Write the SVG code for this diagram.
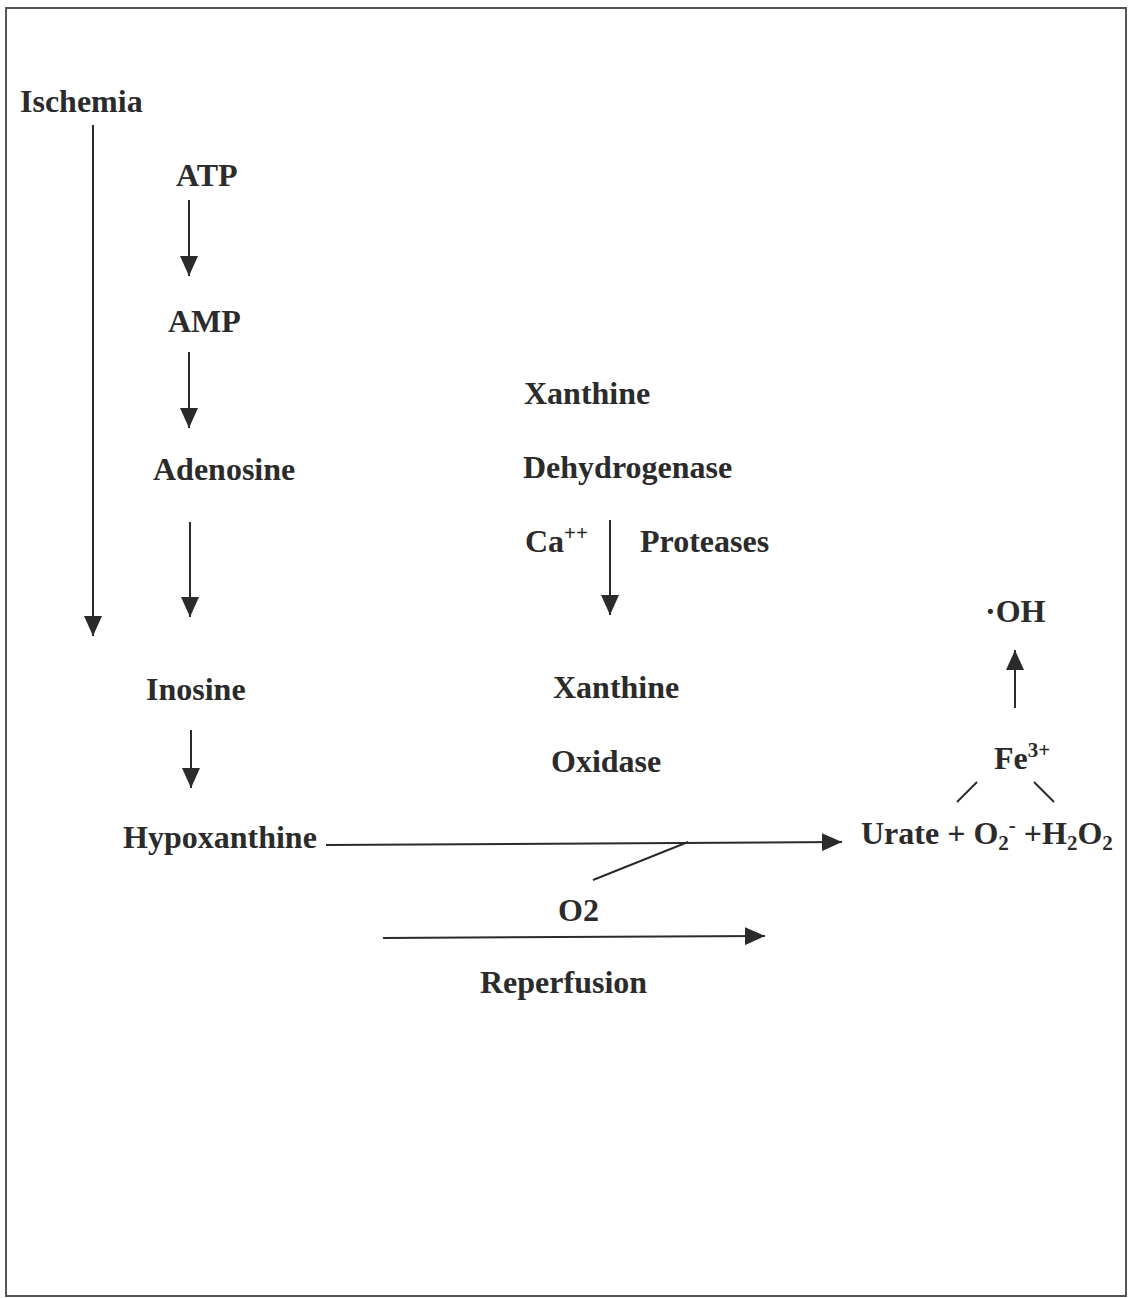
<svg xmlns="http://www.w3.org/2000/svg" width="1132" height="1298" viewBox="0 0 1132 1298">
<defs>
<style>
text{font-family:"Liberation Serif","Times New Roman",serif;font-weight:bold;font-size:32px;fill:#2b2b2b}
.ln{stroke:#2b2b2b;stroke-width:2;fill:none}
.sm{font-size:21px}
</style>
<marker id="ah" viewBox="0 0 20 18" refX="20" refY="9" markerWidth="20" markerHeight="18" markerUnits="userSpaceOnUse" orient="auto">
<path d="M0,0 L20,9 L0,18 Z" fill="#2b2b2b"/>
</marker>
</defs>
<rect width="1132" height="1298" fill="#fff"/>
<rect x="6" y="8" width="1120" height="1288" fill="none" stroke="#555" stroke-width="2"/>
<g id="ischemia"><text x="20" y="112">Ischemia</text></g>
<g id="atp"><text x="176" y="186">ATP</text></g>
<g id="amp"><text x="168" y="332">AMP</text></g>
<g id="adenosine"><text x="153" y="480">Adenosine</text></g>
<g id="inosine"><text x="146" y="700">Inosine</text></g>
<g id="hypoxanthine"><text x="123" y="848">Hypoxanthine</text></g>
<g id="xdh"><text x="524" y="404">Xanthine</text><text x="523" y="478">Dehydrogenase</text></g>
<g id="ca"><text x="525" y="552">Ca<tspan class="sm" dy="-12">++</tspan></text></g>
<g id="proteases"><text x="640" y="552">Proteases</text></g>
<g id="xo"><text x="553" y="698">Xanthine</text><text x="551" y="772">Oxidase</text></g>
<g id="oh"><text x="985" y="622">·OH</text></g>
<g id="fe"><text x="994" y="769">Fe<tspan class="sm" dy="-12">3+</tspan></text></g>
<g id="urate"><text x="861" y="844">Urate + O<tspan class="sm" dy="6">2</tspan><tspan class="sm" dy="-18">-</tspan><tspan dy="12"> +H</tspan><tspan class="sm" dy="6">2</tspan><tspan dy="-6">O</tspan><tspan class="sm" dy="6">2</tspan></text></g>
<g id="o2"><text x="558" y="921">O2</text></g>
<g id="reperfusion"><text x="480" y="993">Reperfusion</text></g>
<g id="connectors">
<line class="ln" x1="93" y1="125" x2="93" y2="636" marker-end="url(#ah)"/>
<line class="ln" x1="189" y1="200" x2="189" y2="276" marker-end="url(#ah)"/>
<line class="ln" x1="189" y1="352" x2="189" y2="428" marker-end="url(#ah)"/>
<line class="ln" x1="190" y1="522" x2="190" y2="617" marker-end="url(#ah)"/>
<line class="ln" x1="191" y1="730" x2="191" y2="788" marker-end="url(#ah)"/>
<line class="ln" x1="610" y1="520" x2="610" y2="615" marker-end="url(#ah)"/>
<line class="ln" x1="326" y1="845" x2="842" y2="842" marker-end="url(#ah)"/>
<line class="ln" x1="593" y1="880" x2="688" y2="842"/>
<line class="ln" x1="383" y1="938" x2="765" y2="936" marker-end="url(#ah)"/>
<line class="ln" x1="1015" y1="708" x2="1015" y2="650" marker-end="url(#ah)"/>
<line class="ln" x1="957" y1="802" x2="977" y2="782"/>
<line class="ln" x1="1034" y1="782" x2="1054" y2="802"/>
</g>
</svg>
